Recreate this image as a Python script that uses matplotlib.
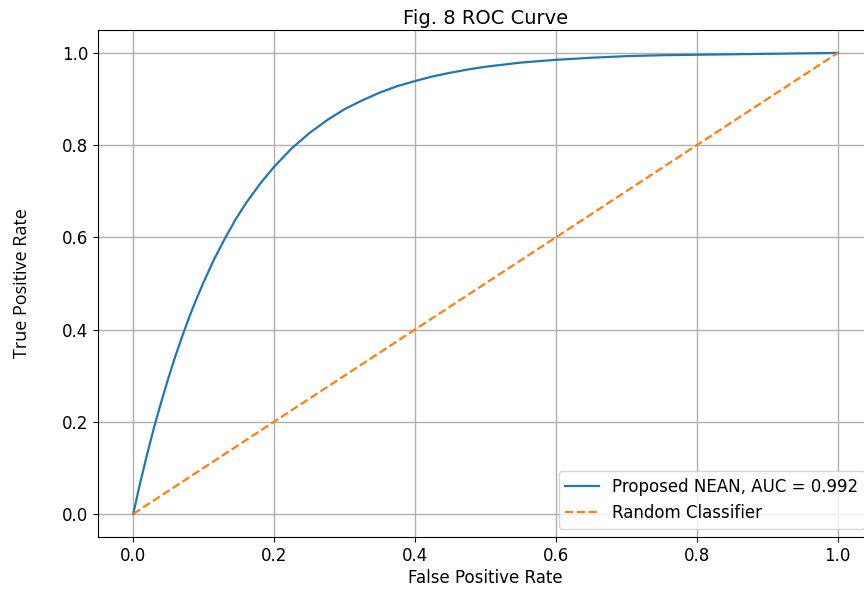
import numpy as np
import matplotlib
matplotlib.use("Agg")
import matplotlib.pyplot as plt

plt.rcParams["font.family"] = ["DejaVu Sans"]

# ROC points
fpr = [0.0, 0.01, 0.02, 0.03, 0.04, 0.05, 0.06, 0.07, 0.08, 0.09, 0.1, 0.115, 0.13,
       0.145, 0.16, 0.18, 0.2, 0.225, 0.25, 0.275, 0.3, 0.325, 0.35, 0.375, 0.4,
       0.425, 0.45, 0.475, 0.5, 0.55, 0.6, 0.65, 0.7, 0.75, 0.8, 0.9, 1.0]
tpr = [0.0, 0.068, 0.131, 0.19, 0.244, 0.295, 0.343, 0.387, 0.429, 0.467, 0.503, 0.553, 0.597,
       0.638, 0.674, 0.716, 0.753, 0.793, 0.826, 0.854, 0.878, 0.897, 0.914, 0.928, 0.939,
       0.949, 0.957, 0.964, 0.970, 0.979, 0.985, 0.9895, 0.993, 0.995, 0.996, 0.998, 1.0]
rand_x = [0.0, 1.0]
rand_y = [0.0, 1.0]
auc_label = "Proposed NEAN, AUC = 0.992"

fig = plt.figure(figsize=(8.64, 5.89), dpi=100)
ax = fig.add_axes([0.1134, 0.0883, 0.897, 0.861])

ax.plot(fpr, tpr, color="#1f77b4", linewidth=1.6, label=auc_label)
ax.plot(rand_x, rand_y, color="#ff7f0e", linestyle="--", linewidth=1.6, label="Random Classifier")

ax.set_xticks([0.0, 0.2, 0.4, 0.6, 0.8, 1.0])
ax.set_yticks([0.0, 0.2, 0.4, 0.6, 0.8, 1.0])
ax.tick_params(labelsize=12)
ax.grid(True, color="#b0b0b0", linewidth=1.0)

ax.set_xlabel("False Positive Rate", fontsize=12, labelpad=3)
ax.set_ylabel("True Positive Rate", fontsize=13,
              family=["Liberation Sans Narrow", "Open Sans", "DejaVu Sans"], labelpad=22)
ax.set_title("Fig. 8 ROC Curve", fontsize=14, pad=4)
ax.legend(loc="lower right", fontsize=12)

fig.savefig("out.png", dpi=100)
